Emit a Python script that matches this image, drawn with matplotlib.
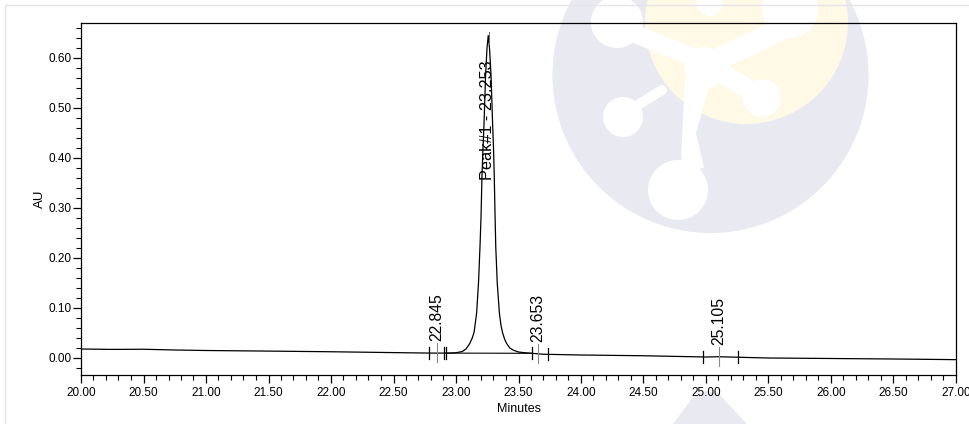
import numpy as np
import matplotlib
matplotlib.use('Agg')
import matplotlib.pyplot as plt
from matplotlib.patches import Circle, Polygon
from matplotlib.ticker import MultipleLocator

plt.rcParams['font.family'] = ['Liberation Sans', 'DejaVu Sans']

# Chromatogram trace (minutes, AU)
time_min = [20.00, 20.25, 20.50, 20.75, 21.00, 21.50, 22.00, 22.50, 22.80, 22.95,
            23.00, 23.05, 23.08, 23.11, 23.13, 23.145, 23.165, 23.18, 23.192, 23.200,
            23.208, 23.216, 23.224, 23.237, 23.248, 23.258, 23.268, 23.280, 23.293, 23.300,
            23.306, 23.312, 23.318, 23.330, 23.347, 23.360, 23.373, 23.390, 23.405, 23.430,
            23.460, 23.500, 23.550, 23.600, 23.700, 24.00, 24.50, 25.00, 25.10, 25.50,
            26.00, 26.50, 27.00]
absorb = [0.018, 0.0172, 0.0175, 0.016, 0.015, 0.0138, 0.0125, 0.0108, 0.0098, 0.0098,
          0.0105, 0.013, 0.018, 0.029, 0.040, 0.052, 0.090, 0.150, 0.223, 0.280,
          0.365, 0.420, 0.467, 0.567, 0.620, 0.645, 0.620, 0.567, 0.467, 0.420,
          0.365, 0.290, 0.223, 0.150, 0.090, 0.065, 0.050, 0.037, 0.029, 0.020,
          0.0155, 0.012, 0.0105, 0.0095, 0.0075, 0.006, 0.0045, 0.002, 0.0025, 0.000,
          -0.001, -0.002, -0.0033]

# integration marks
tick_times = [22.787, 22.905, 22.920, 23.605, 23.740, 24.973, 25.253]
peak_times = [22.845, 23.653, 25.105]
peak_labels = ['22.845', '23.653', '25.105']
main_peak_time = 23.253
main_peak_label = 'Peak#1 - 23.253'
main_base_start, main_base_end = 22.920, 23.605

fig = plt.figure(figsize=(9.69, 4.24), dpi=100)

# watermark drawn in pixel coordinates
bg = fig.add_axes([0, 0, 1, 1], zorder=0)
bg.set_xlim(0, 969)
bg.set_ylim(424, 0)
bg.axis('off')
lav = '#e9e9f2'
yel = '#fff9e6'
bg.add_patch(Circle((710.5, 75), 158, color=lav, lw=0))
bg.add_patch(Circle((746.5, 22.5), 101.5, color=yel, lw=0))
bg.add_patch(Polygon([(673, 424), (693, 397), (706, 391), (719, 394), (747, 424)], color=lav, lw=0))
white_circles = [((617, 22), 26), ((705, 68), 21), ((790, 10), 28), ((762, 98), 19),
                 ((678, 190), 30), ((623, 117), 20), ((710, 3), 13)]
for c, r in white_circles:
    bg.add_patch(Circle(c, r, color='white', lw=0))
white_bands = [((625, 30), (700, 60), 18), ((712, 62), (780, 30), 22),
               ((720, 72), (762, 98), 20), ((630, 110), (662, 90), 10)]
for p0, p1, w in white_bands:
    bg.plot([p0[0], p1[0]], [p0[1], p1[1]], color='white', lw=w * 0.72,
            solid_capstyle='round')
bg.add_patch(Polygon([(685, 80), (681, 157), (690, 175), (704, 167), (696, 133), (711, 80)],
                     color='white', lw=0))
# faint page border
bg.plot([5, 969], [5, 5], color='#e4e4ea', lw=1)
bg.plot([5, 5], [5, 424], color='#e4e4ea', lw=1)

ax = fig.add_axes([81 / 969, 49 / 424, 875 / 969, 352 / 424], zorder=1)
ax.patch.set_alpha(0)

ax.plot(time_min, absorb, color='black', lw=0.9)

t_arr = np.array(time_min)
a_arr = np.array(absorb)
def base_at(t):
    return np.interp(t, t_arr, a_arr)

# drop baseline under the main peak
ax.plot([main_base_start, main_base_end], [base_at(main_base_start), base_at(main_base_end)],
        color='black', lw=0.8)

for t in tick_times:
    b = base_at(t)
    ax.plot([t, t], [b - 0.012, b + 0.012], color='black', lw=0.9)

for t, lab in zip(peak_times, peak_labels):
    b = base_at(t)
    ax.plot([t, t], [b - 0.018, b + 0.02], color='#888888', lw=0.8)
    ax.text(t, b + 0.024, lab, rotation=90, ha='center', va='bottom', fontsize=11.3)

ax.plot([main_peak_time + 0.008] * 2, [0.628, 0.652], color='#666666', lw=0.7)
ax.text(main_peak_time, 0.357, main_peak_label, rotation=90, ha='center', va='bottom',
        fontsize=11.7)

ax.set_xlim(20.0, 27.0)
ax.set_ylim(-0.034, 0.67)
ax.xaxis.set_major_locator(MultipleLocator(0.5))
ax.xaxis.set_minor_locator(MultipleLocator(0.1))
ax.yaxis.set_major_locator(MultipleLocator(0.1))
ax.yaxis.set_minor_locator(MultipleLocator(0.02))
ax.xaxis.set_major_formatter(matplotlib.ticker.FormatStrFormatter('%.2f'))
ax.yaxis.set_major_formatter(matplotlib.ticker.FormatStrFormatter('%.2f'))
ax.tick_params(which='major', length=6, width=0.9, labelsize=8.5, pad=2.5, color='black')
ax.tick_params(which='minor', length=3.5, width=0.8, color='black')
ax.tick_params(axis='y', pad=1)
for s in ax.spines.values():
    s.set_linewidth(0.9)

ax.set_xlabel('Minutes', fontsize=9, labelpad=3)
ax.set_ylabel('AU', fontsize=9.5, labelpad=1.5)

fig.savefig('out.png', dpi=100)
